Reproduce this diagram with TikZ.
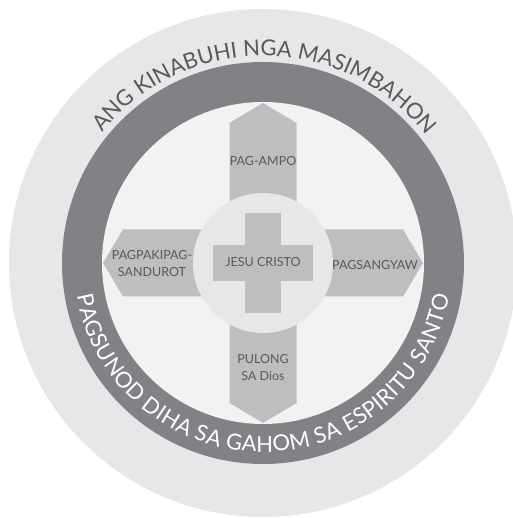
\documentclass[tikz,border=0pt]{standalone}
\usepackage{fontspec}
\setmainfont{Lato}
\usepackage{xcolor}
\usetikzlibrary{decorations.text}

\definecolor{anelclaro}{HTML}{E6E7E8}
\definecolor{anelescuro}{HTML}{808285}
\definecolor{discoclaro}{HTML}{F1F2F2}
\definecolor{cinzaseta}{HTML}{BCBEC0}
\definecolor{texto}{HTML}{58595B}

\newcommand{\arcofonte}{\fontsize{22}{22}\selectfont}

\tikzset{
  rotulo/.style={text=texto, font=\fontsize{12.5}{17}\selectfont, align=center},
  braco/.style={fill=cinzaseta, draw=none}
}

\begin{document}
\begin{tikzpicture}[x=1pt, y=1pt]

\useasboundingbox (-263,-255) rectangle (249,263);

% Centro
\coordinate (O) at (0,0);

% Aneis
\fill[anelclaro] (O) circle (254);
\fill[anelescuro] (O) circle (201);
\fill[discoclaro] (O) circle (161);

% Bracos
\fill[braco] (-33.5,0) -- (-33.5,140) -- (0,160) -- (33.5,140) -- (33.5,0) -- cycle;
\fill[braco] (-33.5,0) -- (-33.5,-140) -- (0,-160) -- (33.5,-140) -- (33.5,0) -- cycle;
\fill[braco] (0,-33.5) -- (-140,-33.5) -- (-160,0) -- (-140,33.5) -- (0,33.5) -- cycle;
\fill[braco] (0,-33.5) -- (140,-33.5) -- (160,0) -- (140,33.5) -- (0,33.5) -- cycle;

% Circulo central e cruz
\fill[anelclaro] (O) circle (70);
\fill[cinzaseta] (-18,-50) rectangle (18,50);
\fill[cinzaseta] (-50,-18) rectangle (50,18);

% Rotulos
\node[rotulo] (ampo) at (0,102) {PAG-AMPO};
\node[rotulo] (sandurot) at (-111,-1) {PAGPAKIPAG-\\SANDUROT};
\node[rotulo] (sangyaw) at (112,-2) {PAGSANGYAW};
\node[rotulo] (pulong) at (0,-105) {PULONG\\SA Dios};
\node[rotulo] (jesu) at (0,1) {JESU CRISTO};

% Texto de cima
\path[decorate, decoration={text along path,
    text={|\arcofonte\color{texto}|ANG KINABUHI NGA MASIMBAHON},
    text align={fit to path}}]
  (141:207) arc[start angle=141, end angle=39, radius=207];

% Texto de baixo
\path[decorate, decoration={text along path,
    text={|\arcofonte\color{white}|PAGSUNOD DIHA SA GAHOM SA ESPIRITU SANTO},
    text align={fit to path}}]
  (190:189) arc[start angle=190, end angle=350, radius=189];

\end{tikzpicture}
\end{document}
